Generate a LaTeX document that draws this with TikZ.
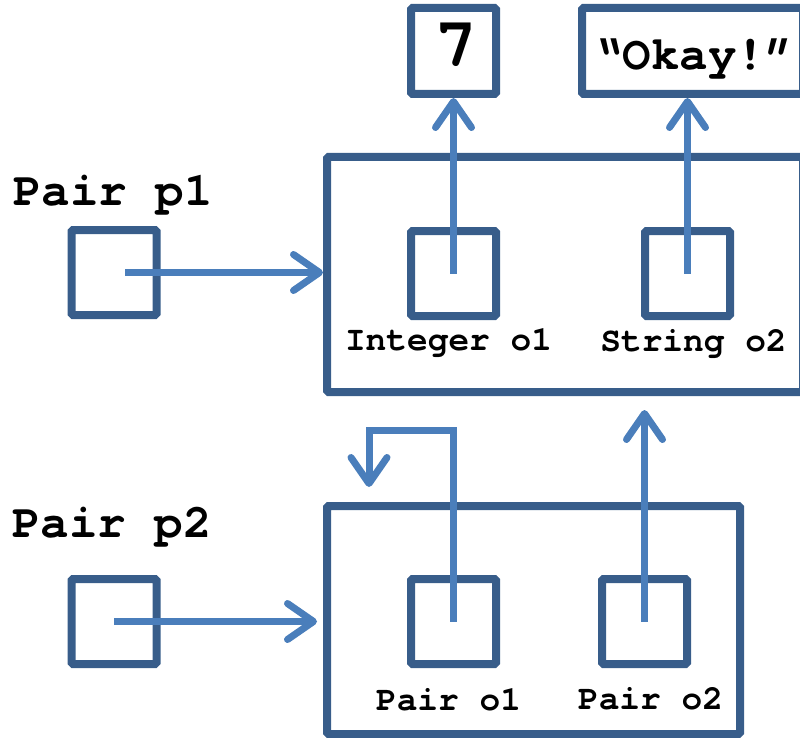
\documentclass[tikz,border=0pt]{standalone}
\usepackage{fontspec}
\newfontfamily\cour{TeX Gyre Cursor}
\usetikzlibrary{arrows.meta}
\definecolor{boxline}{HTML}{385D8A}
\definecolor{ptrline}{HTML}{4A7EBB}
\begin{document}
\begin{tikzpicture}[x=1pt,y=-1pt,
  cell/.style={draw=boxline, line width=8pt, rounded corners=1.5pt,
    minimum width=85pt, minimum height=85pt, inner sep=0pt},
  frame/.style={draw=boxline, line width=8pt, rounded corners=1.5pt, inner sep=0pt},
  ptr/.style={draw=ptrline, line width=7pt,
    -{Straight Barb[length=26pt,width=36pt,round]}},
  lbl/.style={font=\cour\bfseries\fontsize{34.5}{40}\selectfont, inner sep=0pt, anchor=base},
  varname/.style={font=\cour\bfseries\fontsize{47.5}{55}\selectfont, inner sep=0pt, anchor=base}]
\useasboundingbox (0,0) rectangle (800,738);

% boxed values
\node[cell, minimum height=86pt] (seven) at (453.5,51) {};
\node[inner sep=0pt, anchor=base, font=\cour\bfseries\fontsize{70}{76}\selectfont] (seventxt) at (456,67) {7};
\node[frame, minimum width=221pt, minimum height=86pt] (okay) at (692.5,51) {};
\node[varname] (okaytxt) at (694,70) {“Okay!”};

% the two pair objects
\node[frame, minimum width=476pt, minimum height=235pt] (P1) at (565,274.5) {};
\node[frame, minimum width=413pt, minimum height=228pt] (P2) at (533.5,620) {};

% reference cells
\node[cell] (p1) at (114,272.5) {};
\node[cell] (p2) at (114,621.5) {};
\node[cell] (o1) at (453.5,273.5) {};
\node[cell] (o2) at (687.5,273.5) {};
\node[cell] (q1) at (453.5,621.5) {};
\node[cell] (q2) at (644.5,621.5) {};

% labels
\node[varname] (p1name) at (113,205) {Pair p1};
\node[varname] (p2name) at (112,537) {Pair p2};
\node[lbl] (o1name) at (448.5,350) {Integer o1};
\node[lbl] (o2name) at (693.5,351) {String o2};
\node[lbl] (q1name) at (448.5,710) {Pair o1};
\node[lbl] (q2name) at (650.5,709) {Pair o2};

% references
\coordinate (turn) at (369,430);
\coordinate (back) at (369,487);
\draw[ptr] ([xshift=11pt]p1.center) -- (P1.west |- p1.center);
\draw[ptr, shorten >=6pt] (p2.center) -- (P2.west |- p2.center);
\draw[ptr] (o1.center) -- (seven.south);
\draw[ptr] (o2.center) -- (o2.center |- okay.south);
\draw[ptr] (q1.center) |- (turn) -- (back);
\draw[ptr] (q2.center) -- ([yshift=-14pt]P1.south -| q2.center);
\end{tikzpicture}
\end{document}
